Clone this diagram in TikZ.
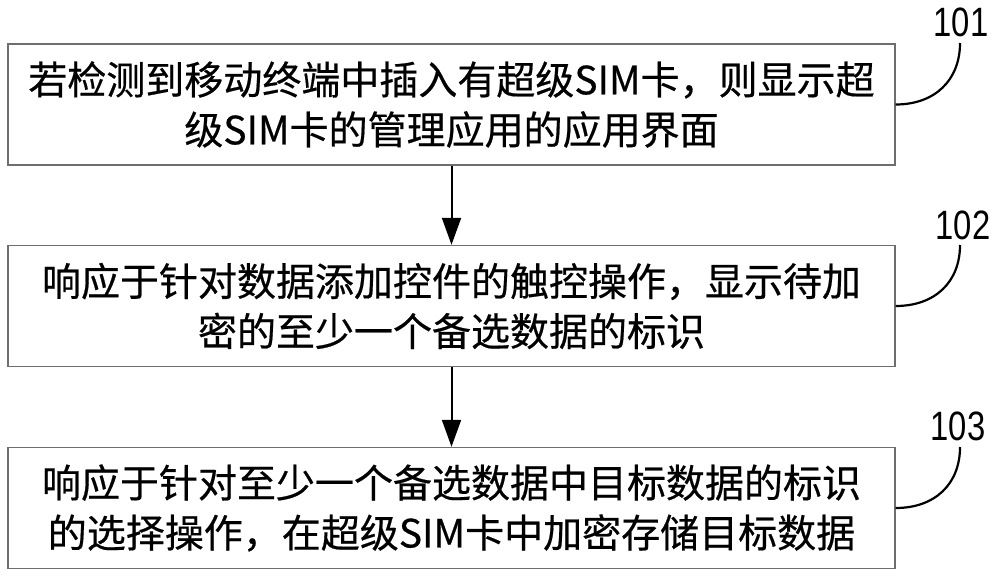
\documentclass[tikz,border=0pt]{standalone}
\usepackage{fontspec}
\setmainfont{Liberation Sans}
\newfontfamily\cjk[FakeBold=0.5]{Noto Sans CJK SC}
\newfontfamily\numfont[FakeStretch=0.8]{Liberation Sans}
\usetikzlibrary{arrows.meta}
\definecolor{boxgray}{RGB}{110,110,110}
\begin{document}
\begin{tikzpicture}[x=1pt,y=-1pt,
  stepbox/.style={draw=boxgray, line width=1.4pt, minimum width=887pt, minimum height=121pt,
    align=center, font=\cjk\fontsize{39}{50}\selectfont, inner sep=0pt},
  flow/.style={-{Triangle[length=27pt,width=19pt]}, line width=2pt},
  leader/.style={line width=2.2pt},
  num/.style={font=\numfont\fontsize{41}{41}\selectfont, inner sep=0pt}]
\useasboundingbox (0,0) rectangle (1000,578);
\node[stepbox] (b1) at (451.5,104.5) {若检测到移动终端中插入有超级SIM卡，则显示超\\级SIM卡的管理应用的应用界面};
\node[stepbox] (b2) at (451.5,306) {响应于针对数据添加控件的触控操作，显示待加\\密的至少一个备选数据的标识};
\node[stepbox] (b3) at (451.5,508) {响应于针对至少一个备选数据中目标数据的标识\\的选择操作，在超级SIM卡中加密存储目标数据};
\node[num] (l1) at (961,22) {101};
\node[num] (l2) at (963,225) {102};
\node[num] (l3) at (958,426) {103};
\coordinate (e1) at (960,43);
\coordinate (e2) at (960,245);
\coordinate (e3) at (960,447);
\draw[flow] (b1.south) -- (b2.north);
\draw[flow] (b2.south) -- (b3.north);
\draw[leader] (b1.east) .. controls (935,104.5) and (960,80) .. (e1);
\draw[leader] (b2.east) .. controls (935,306) and (960,282) .. (e2);
\draw[leader] (b3.east) .. controls (935,508) and (960,484) .. (e3);
\end{tikzpicture}
\end{document}
